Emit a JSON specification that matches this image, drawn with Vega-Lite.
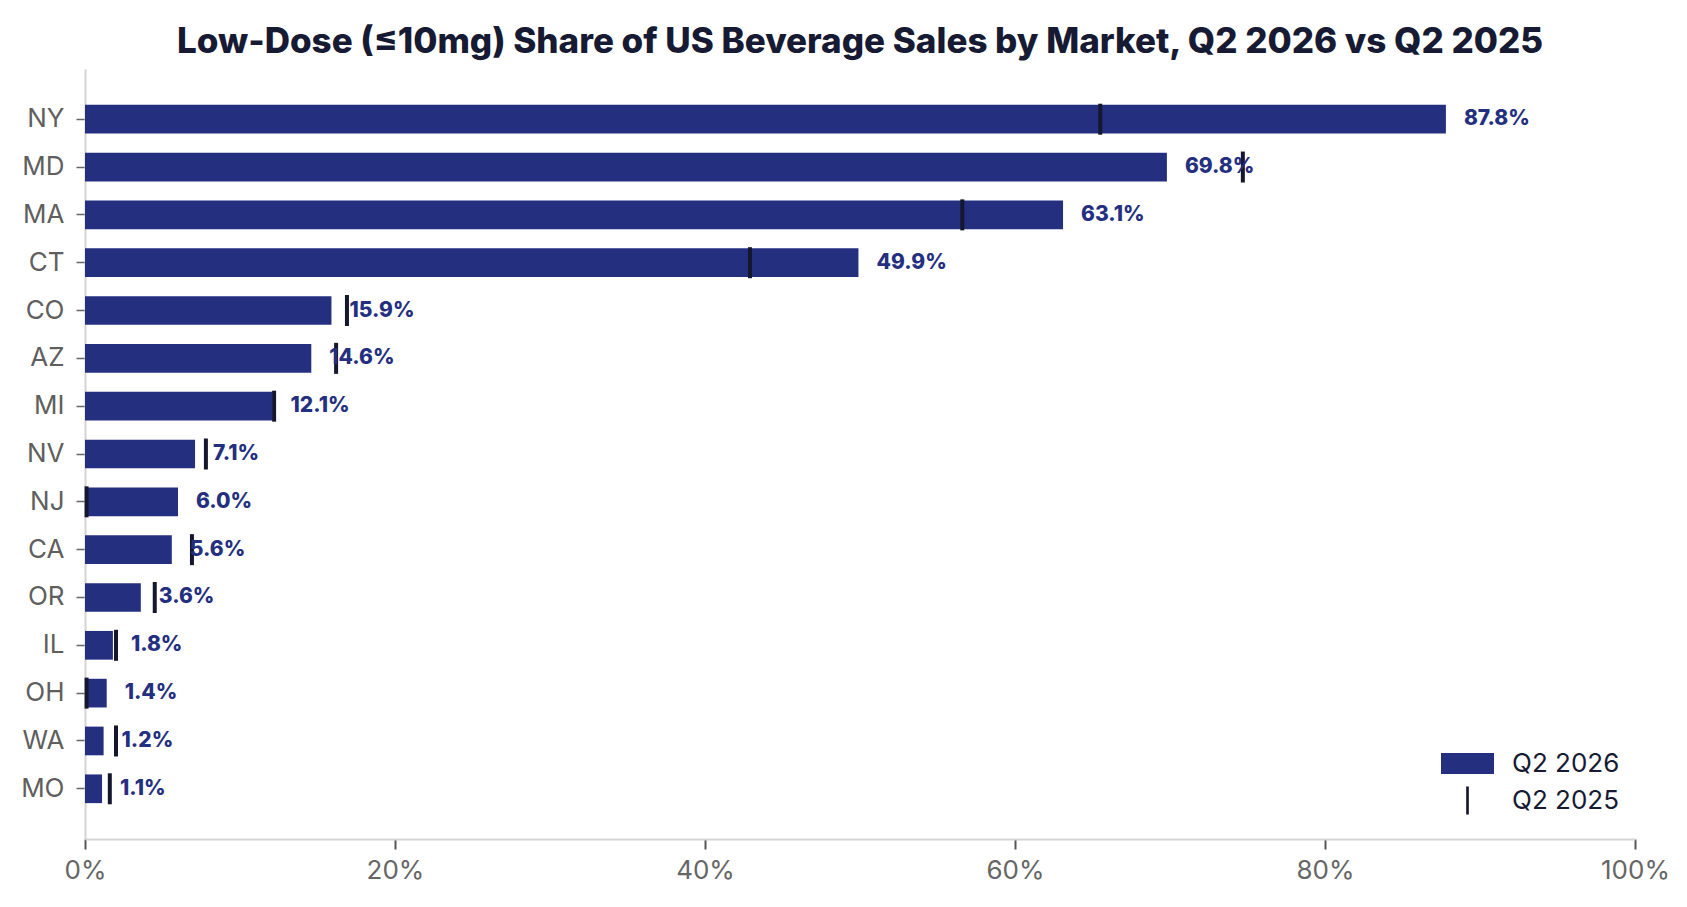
{
  "$schema": "https://vega.github.io/schema/vega-lite/v6.json",
  "width": 1550,
  "height": 770,
  "autosize": "none",
  "padding": {"left": 85, "top": 69, "right": 52, "bottom": 68},
  "background": "white",
  "config": {
    "font": "Inter",
    "view": {"stroke": null},
    "axis": {"grid": false}
  },
  "title": {
    "text": "Low-Dose (≤10mg) Share of US Beverage Sales by Market, Q2 2026 vs Q2 2025",
    "anchor": "middle",
    "font": "Inter",
    "fontSize": 35,
    "fontWeight": 800,
    "color": "#171a33",
    "offset": 9
  },
  "data": {
    "values": [
      {"state": "NY", "q2026": 0.878, "q2025": 0.655},
      {"state": "MD", "q2026": 0.698, "q2025": 0.747},
      {"state": "MA", "q2026": 0.631, "q2025": 0.566},
      {"state": "CT", "q2026": 0.499, "q2025": 0.429},
      {"state": "CO", "q2026": 0.159, "q2025": 0.169},
      {"state": "AZ", "q2026": 0.146, "q2025": 0.162},
      {"state": "MI", "q2026": 0.121, "q2025": 0.122},
      {"state": "NV", "q2026": 0.071, "q2025": 0.078},
      {"state": "NJ", "q2026": 0.060, "q2025": 0.001},
      {"state": "CA", "q2026": 0.056, "q2025": 0.069},
      {"state": "OR", "q2026": 0.036, "q2025": 0.045},
      {"state": "IL", "q2026": 0.018, "q2025": 0.020},
      {"state": "OH", "q2026": 0.014, "q2025": 0.001},
      {"state": "WA", "q2026": 0.012, "q2025": 0.020},
      {"state": "MO", "q2026": 0.011, "q2025": 0.016}
    ]
  },
  "encoding": {
    "y": {
      "field": "state",
      "type": "nominal",
      "sort": null,
      "title": null,
      "scale": {"paddingInner": 0.4, "paddingOuter": 0.75},
      "axis": {
        "labelFontSize": 26,
        "labelColor": "#5f5f5f",
        "labelPadding": 12,
        "tickSize": 9,
        "tickColor": "#666666",
        "tickWidth": 1.5,
        "domainColor": "#d4d4d4",
        "domainWidth": 2
      }
    }
  },
  "layer": [
    {
      "mark": {"type": "bar"},
      "encoding": {
        "x": {
          "field": "q2026",
          "type": "quantitative",
          "title": null,
          "scale": {"domain": [0, 1], "nice": false},
          "axis": {
            "format": ".0%",
            "values": [0, 0.2, 0.4, 0.6, 0.8, 1],
            "labelFlush": false,
            "labelFontSize": 26,
            "labelColor": "#666666",
            "labelPadding": 8,
            "tickSize": 10,
            "tickColor": "#555555",
            "tickWidth": 2,
            "domainColor": "#d4d4d4",
            "domainWidth": 2
          }
        },
        "color": {
          "datum": "Q2 2026",
          "scale": {"range": ["#242f80"]},
          "legend": {
            "title": null,
            "orient": "none",
            "legendX": 1356,
            "legendY": 668,
            "padding": 0,
            "symbolType": "M-1,-0.4H1V0.4H-1Z",
            "symbolSize": 2809,
            "symbolStrokeWidth": 0,
            "symbolOpacity": 1,
            "labelFontSize": 26,
            "labelColor": "#171a33",
            "labelOffset": 18
          }
        }
      }
    },
    {
      "mark": {"type": "tick", "thickness": 4, "size": 31, "opacity": 1},
      "encoding": {
        "x": {"field": "q2025", "type": "quantitative"},
        "color": {
          "datum": "Q2 2025",
          "scale": {"range": ["#15172e"]},
          "legend": {
            "title": null,
            "orient": "none",
            "legendX": 1356,
            "legendY": 705,
            "padding": 0,
            "symbolType": "M-0.05,-0.53H0.05V0.53H-0.05Z",
            "symbolSize": 2809,
            "symbolStrokeWidth": 0,
            "symbolOpacity": 1,
            "labelFontSize": 26,
            "labelColor": "#171a33",
            "labelOffset": 18
          }
        }
      }
    },
    {
      "mark": {
        "type": "text",
        "align": "left",
        "baseline": "middle",
        "dx": 18,
        "fontSize": 21,
        "fontWeight": 800,
        "color": "#242f80"
      },
      "encoding": {
        "x": {"field": "q2026", "type": "quantitative"},
        "text": {"field": "q2026", "type": "quantitative", "format": ".1%"}
      }
    }
  ],
  "resolve": {"scale": {"color": "independent"}}
}
